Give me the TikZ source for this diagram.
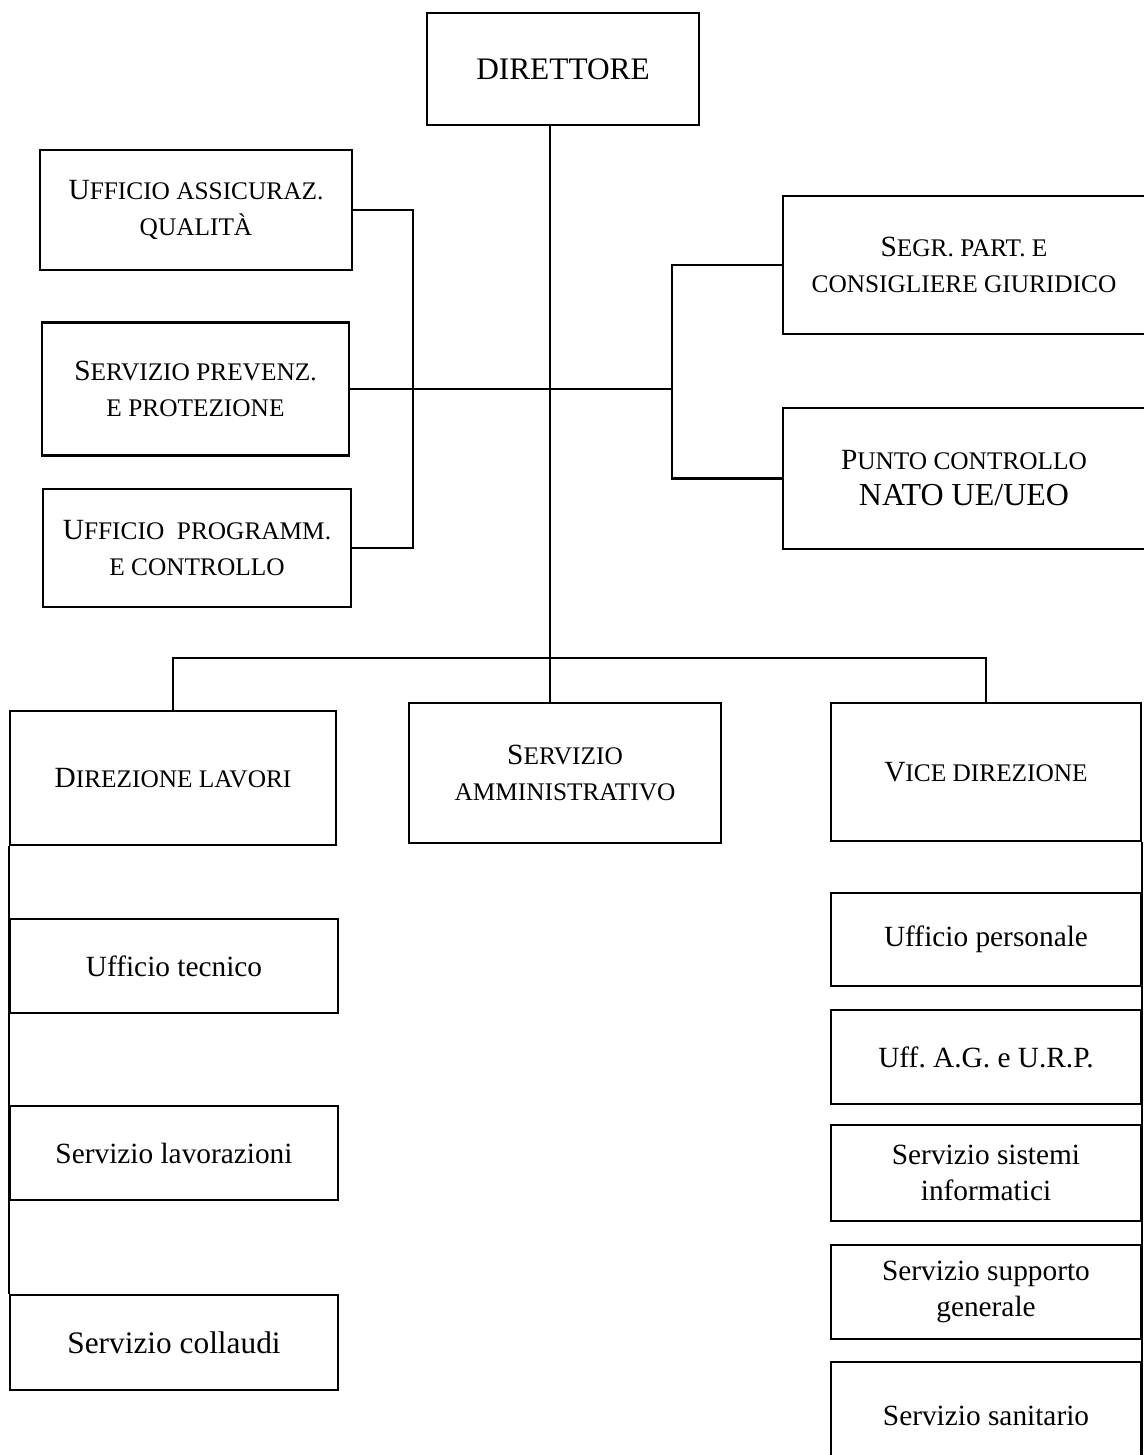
\documentclass[tikz,border=0pt]{standalone}
\usepackage{fontspec}
\setmainfont{Liberation Serif}
\newcommand\smc[1]{{\fontsize{19}{27}\selectfont #1}}

\tikzset{every picture/.style={line width=0.75pt}}
\tikzset{
  box/.style={draw, line width=1.9pt, inner sep=0pt, align=center, font=\fontsize{22}{27}\selectfont\frenchspacing},
  wh/.style 2 args={minimum width=#1*0.75pt, minimum height=#2*0.75pt},
  link/.style={line width=1.6pt}
}

\begin{document}
\begin{tikzpicture}[x=0.75pt,y=0.75pt,yscale=-1,xscale=1]
\useasboundingbox (0,0) rectangle (1143,1455); %set diagram size

%Top box
\node [box, wh={272}{112}, font=\fontsize{23.5}{27}\selectfont] (dir) at (563,69) {DIRETTORE};

%Staff boxes, left
\node [box, wh={312}{120}] (qual) at (196,210) {U\smc{FFICIO ASSICURAZ.}\\\smc{QUALITÀ}};
\node [box, wh={307}{133}] (prev) at (195.5,389) {S\smc{ERVIZIO PREVENZ.}\\\smc{E PROTEZIONE}};
\node [box, wh={308}{118}] (prog) at (197,548) {U\smc{FFICIO\ \ PROGRAMM.}\\\smc{E CONTROLLO}};

%Staff boxes, right
\node [box, wh={362}{138}] (segr) at (964,265) {S\smc{EGR. PART. E}\\\smc{CONSIGLIERE GIURIDICO}};
\node [box, wh={362}{141}] (punto) at (964,478.5) {P\smc{UNTO CONTROLLO}\\{\fontsize{24}{27}\selectfont NATO UE/UEO}};

%Second level
\node [box, wh={326}{134}] (dirlav) at (173,778) {D\smc{IREZIONE LAVORI}};
\node [box, wh={312}{140}] (amm) at (565,773) {S\smc{ERVIZIO}\\\smc{AMMINISTRATIVO}};
\node [box, wh={310}{138}] (vice) at (986,772) {V\smc{ICE DIREZIONE}};

%Under Direzione lavori
\node [box, wh={328}{94}] (tec) at (174,966) {Ufficio tecnico};
\node [box, wh={328}{94}] (lavz) at (174,1153) {Servizio lavorazioni};
\node [box, wh={328}{95}, font=\fontsize{23.5}{27}\selectfont] (coll) at (174,1342.5) {Servizio collaudi};

%Under Vice direzione
\node [box, wh={310}{93}] (pers) at (986,939.5) {Ufficio personale};
\node [box, wh={310}{94}] (agurp) at (986,1057) {Uff. A.G. e U.R.P.};
\node [box, wh={310}{96}] (sist) at (986,1173) {Servizio sistemi\\informatici};
\node [box, wh={310}{94}] (supp) at (986,1292) {Servizio supporto\\generale};
\node [box, wh={310}{108}] (sanit) at (986,1416) {Servizio sanitario};

%Connectors
\coordinate (bus) at (550,658);
\coordinate (lbr) at (413,389);
\coordinate (rbr) at (672,389);
\draw [link] (dir.south -| bus) -- (bus |- amm.north);
\draw [link] (dirlav.north) |- (bus) -| (vice.north);
\draw [link] (qual.east) -| (lbr) |- (prog.east);
\draw [link] (prev.east) -- (rbr);
\draw [link] (segr.west) -| (rbr) |- (punto.west);
\draw [link] (dirlav.south west) -- (coll.north west);
\draw [link] (vice.south east) -- (sanit.south east);

\end{tikzpicture}
\end{document}
